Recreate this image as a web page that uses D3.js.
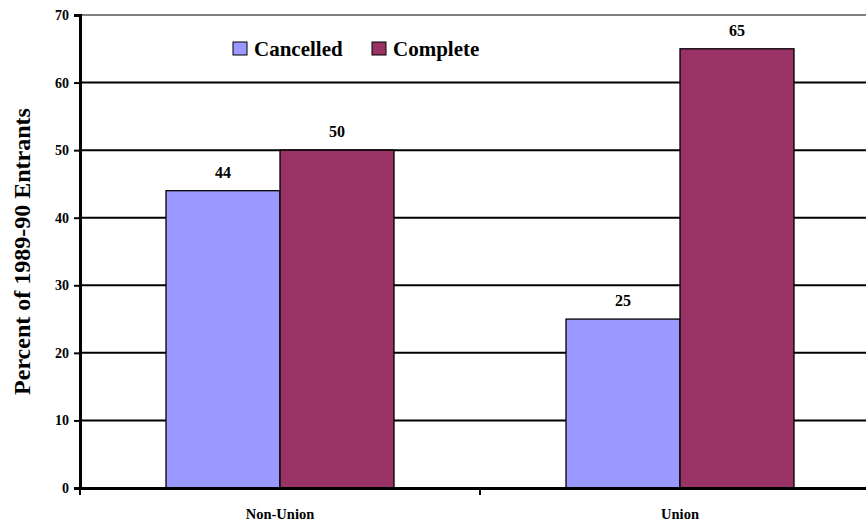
<!DOCTYPE html>
<html>
<head>
<meta charset="utf-8">
<script src="https://cdn.jsdelivr.net/npm/d3@7"></script>
<style>
  body { margin: 0; background: #fff; }
  svg { display: block; }
  svg text { font-family: "Liberation Serif", "Times New Roman", serif; font-weight: bold; fill: #000; }
</style>
</head>
<body>
<div id="chart"></div>
<script>
const categories = ["Non-Union", "Union"]
const seriesNames = ["Cancelled", "Complete"]
const cancelled = [44, 25]
const complete = [50, 65]
const yTicks = [0, 10, 20, 30, 40, 50, 60, 70]
const colors = ["#9999FF", "#993366"]

const width = 866, height = 525
const plotLeft = 80, plotRight = 880, plotTop = 15, plotBottom = 488

const svg = d3.select("#chart")
    .append("svg")
    .attr("width", width)
    .attr("height", height)

const y = d3.scaleLinear().domain([0, 70]).range([plotBottom, plotTop])
const x = d3.scaleBand().domain(categories).range([plotLeft, plotRight])
    .paddingInner(0.43).paddingOuter(0.215)
const xs = d3.scaleBand().domain(seriesNames).range([0, x.bandwidth()])

// gridlines
svg.append("g")
    .selectAll("line")
    .data(yTicks.filter(d => d > 0))
    .enter().append("line")
    .attr("x1", plotLeft).attr("x2", plotRight)
    .attr("y1", d => y(d)).attr("y2", d => y(d))
    .attr("stroke", d => d === 70 ? "#808080" : "#000")
    .attr("stroke-width", 2)

// bars
const rows = categories.map((c, i) => ({cat: c, vals: [cancelled[i], complete[i]]}))
const groups = svg.append("g")
    .selectAll("g")
    .data(rows)
    .enter().append("g")
    .attr("transform", d => `translate(${x(d.cat)},0)`)

groups.selectAll("rect")
    .data(d => d.vals.map((v, j) => ({name: seriesNames[j], v: v, j: j})))
    .enter().append("rect")
    .attr("x", d => xs(d.name))
    .attr("y", d => y(d.v))
    .attr("width", xs.bandwidth())
    .attr("height", d => plotBottom - y(d.v))
    .attr("fill", d => colors[d.j])
    .attr("stroke", "#000")
    .attr("stroke-width", 1.3)

groups.selectAll("text")
    .data(d => d.vals.map((v, j) => ({name: seriesNames[j], v: v})))
    .enter().append("text")
    .attr("x", d => xs(d.name) + xs.bandwidth() / 2)
    .attr("y", d => y(d.v) - 13)
    .attr("text-anchor", "middle")
    .attr("font-size", 16)
    .text(d => d.v)

// y axis
const yAxis = svg.append("g")
    .attr("transform", `translate(${plotLeft},0)`)
    .call(d3.axisLeft(y).tickValues(yTicks).tickSize(6).tickPadding(5))
yAxis.select(".domain").attr("stroke-width", 3)
yAxis.selectAll(".tick line").attr("stroke-width", 2)
yAxis.selectAll("text")
    .attr("font-size", 14)

// x axis
const xAxis = svg.append("g")
    .attr("transform", `translate(0,${plotBottom})`)
    .call(d3.axisBottom(x).tickSize(0).tickPadding(21))
xAxis.select(".domain").attr("stroke-width", 3)
xAxis.selectAll("text")
    .attr("font-size", 14.5)
// category separators
svg.append("g")
    .selectAll("line")
    .data([plotLeft, plotLeft + x.step(), plotRight])
    .enter().append("line")
    .attr("x1", d => d).attr("x2", d => d)
    .attr("y1", plotBottom).attr("y2", plotBottom + 7)
    .attr("stroke", "#000")
    .attr("stroke-width", 2)

// y label
svg.append("text")
    .attr("transform", `translate(30,${(plotTop + plotBottom) / 2}) rotate(-90)`)
    .attr("text-anchor", "middle")
    .attr("font-size", 24)
    .text("Percent of 1989-90 Entrants")

// legend
const legend = svg.append("g")
const legendX = [233, 372]
seriesNames.forEach((n, i) => {
    legend.append("rect")
        .attr("x", legendX[i]).attr("y", 42)
        .attr("width", 14).attr("height", 13)
        .attr("fill", colors[i])
        .attr("stroke", "#000")
        .attr("stroke-width", 1)
    legend.append("text")
        .attr("x", legendX[i] + 21).attr("y", 56)
        .attr("font-size", 21)
        .text(n)
})
</script>
</body>
</html>
